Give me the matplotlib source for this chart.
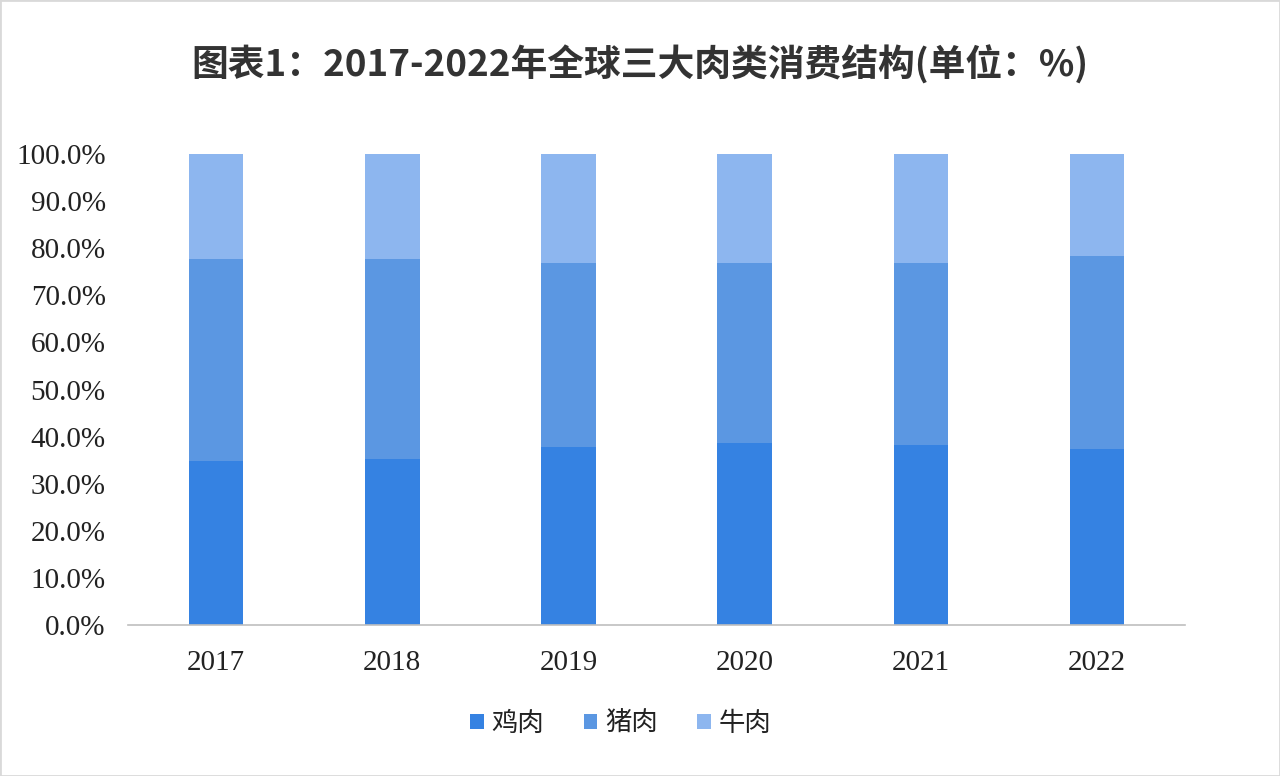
import matplotlib
matplotlib.use("Agg")
import matplotlib.pyplot as plt
import numpy as np
from matplotlib.patches import Rectangle

years = ["2017", "2018", "2019", "2020", "2021", "2022"]
series_names = ["鸡肉", "猪肉", "牛肉"]
chicken = [34.8, 35.2, 37.7, 38.6, 38.2, 37.3]
pork = [42.9, 42.5, 39.1, 38.2, 38.6, 41.0]
beef = [22.3, 22.3, 23.2, 23.2, 23.2, 21.7]
yticks = [0, 10, 20, 30, 40, 50, 60, 70, 80, 90, 100]
colors = ["#3582E2", "#5B97E2", "#8DB6EF"]

plt.rcParams['font.family'] = ['Noto Sans CJK SC', 'DejaVu Sans']

fig = plt.figure(figsize=(12.8, 7.76), dpi=100)
ax = fig.add_axes([0.1, 0.1946, 0.826, 0.6069])

x = np.arange(len(years))
w = 0.31
b1 = ax.bar(x, chicken, w, color=colors[0], label=series_names[0])
b2 = ax.bar(x, pork, w, bottom=chicken, color=colors[1], label=series_names[1])
bot3 = np.array(chicken) + np.array(pork)
b3 = ax.bar(x, beef, w, bottom=bot3, color=colors[2], label=series_names[2])

ax.set_xlim(-0.5, len(years) - 0.5)
ax.set_ylim(0, 100)
ax.set_yticks(yticks)
ax.set_yticklabels([f"{v:.1f}%" for v in yticks], fontfamily="Liberation Serif", fontsize=21, color="#222222")
ax.set_xticks(x)
ax.set_xticklabels(years, fontfamily="Liberation Serif", fontsize=21, color="#222222")
ax.tick_params(axis='both', length=0)
ax.tick_params(axis='x', pad=18)
ax.tick_params(axis='y', pad=16)
for s in ["top", "right", "left"]:
    ax.spines[s].set_visible(False)
ax.spines["bottom"].set_color("#BFBFBF")
ax.spines["bottom"].set_linewidth(1.2)

fig.text(0.5, 0.916, "图表1：2017-2022年全球三大肉类消费结构(单位：%)", ha="center", va="center",
         fontsize=26.5, fontweight="bold", color="#333333")

leg = fig.legend(handles=[b1, b2, b3], labels=series_names, loc="center", bbox_to_anchor=(0.485, 0.068),
                 ncol=3, frameon=False, fontsize=19, handlelength=0.5, handleheight=0.5,
                 handletextpad=0.3, columnspacing=1.5)
for t in leg.get_texts():
    t.set_color("#222222")

fig.patches.append(Rectangle((0, 0), 1, 1, transform=fig.transFigure, fill=False,
                             edgecolor="#D9D9D9", linewidth=2))

fig.savefig("out.png", dpi=100)
